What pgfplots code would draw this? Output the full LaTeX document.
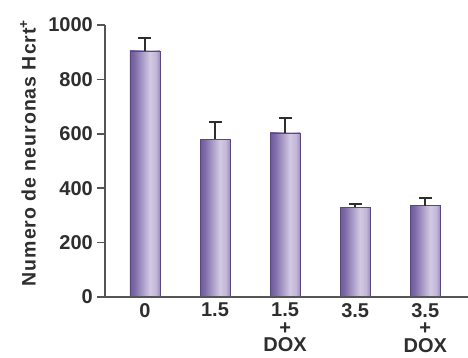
\documentclass[border=0pt]{standalone}
\usepackage{fontspec}
\setmainfont{Liberation Sans}
\usepackage{pgfplots}
\pgfplotsset{compat=1.18}
\definecolor{bdark}{HTML}{6E5A9B}
\definecolor{bdark2}{HTML}{7C69A8}
\definecolor{blight}{HTML}{D2C9E2}
\definecolor{bright}{HTML}{9A8BC0}
\definecolor{txt}{HTML}{2E2E2E}
\definecolor{axc}{HTML}{555555}
\pgfdeclarehorizontalshading{barshade}{100bp}{color(0bp)=(bdark); color(25bp)=(bdark); color(32bp)=(bdark2); color(58bp)=(blight); color(68bp)=(blight!85!bdark); color(75bp)=(bright); color(100bp)=(bright)}
\pgfplotsset{mybar/.style={ybar, bar width=30pt, bar shift=0pt, draw=bdark!80!black, line width=0.5pt, shade, shading=barshade}}
\begin{document}
\begin{tikzpicture}
\begin{axis}[
  scale only axis,
  width=363pt, height=272pt,
  xmin=-0.57, xmax=4.61,
  ymin=0, ymax=1000,
  axis on top,
  axis x line*=bottom, axis y line*=left,
  axis line style={-, axc, line width=1.5pt},
  xtick={0,1,2,3,4},
  xticklabels={0, 1.5, {1.5\\+\\DOX}, 3.5, {3.5\\+\\DOX}},
  xtick align=inside,
  xtick style={draw=none},
  ytick={0,200,...,1000},
  ytick align=outside,
  major tick length=8pt,
  ytick style={axc, line width=1.5pt},
  /pgf/number format/assume math mode=true,
  /pgf/number format/1000 sep={},
  yticklabel style={font=\fontsize{20}{20}\selectfont\bfseries, text=txt, inner sep=0pt, xshift=-4pt},
  xticklabel style={font=\fontsize{20}{17.5}\selectfont\bfseries, text=txt, align=center, inner sep=0pt, yshift=-6pt, anchor=north},
  ylabel={Numero de neuronas Hcrt\textsuperscript{+}},
  every axis y label/.style={at={(axis description cs:-0.212,0.53)}, rotate=90, anchor=center, font=\fontsize{19.5}{19.5}\selectfont\bfseries\addfontfeatures{LetterSpace=5}, text=txt},
]
\addplot[mybar] coordinates {(0,905)};
\addplot[mybar] coordinates {(1,580)};
\addplot[mybar] coordinates {(2,603)};
\addplot[mybar] coordinates {(3,330)};
\addplot[mybar] coordinates {(4,336)};
\addplot[draw=none, mark=none,
  error bars/.cd, y dir=plus, y explicit, error mark=|,
  error bar style={draw=txt, line width=1.6pt},
  error mark options={draw=txt, mark size=6.5pt, line width=1.6pt}]
  coordinates {
    (0,905) +- (0,48)
    (1,580) +- (0,63)
    (2,603) +- (0,55)
    (3,330) +- (0,12)
    (4,336) +- (0,27)
  };
\end{axis}
\pgfresetboundingbox
\path ([xshift=-105pt,yshift=-61pt]current axis.south west) rectangle ([yshift=25pt]current axis.north east);
\end{tikzpicture}
\end{document}
